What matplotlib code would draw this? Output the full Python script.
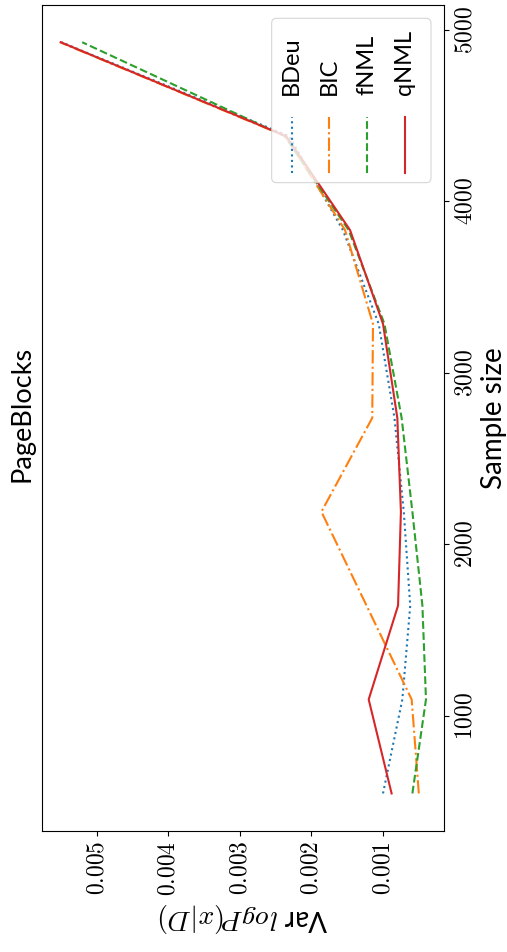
import matplotlib
matplotlib.use("Agg")
import matplotlib.pyplot as plt
from matplotlib.lines import Line2D
from matplotlib.patches import FancyBboxPatch
from matplotlib.ticker import FixedLocator, FuncFormatter

plt.rcParams["font.family"] = ["Lato", "DejaVu Sans"]
plt.rcParams["mathtext.fontset"] = "cm"

# data (figure is shown rotated by 90 degrees)
dataset = "PageBlocks"
sample_sizes = [547, 1095, 1642, 2189, 2736, 3284, 3831, 4378, 4926]
var_bdeu = [0.00100, 0.00073, 0.00062, 0.00071, 0.00084, 0.00106, 0.00156, 0.00231, 0.00549]
var_bic = [0.00050, 0.00060, 0.00123, 0.00186, 0.00115, 0.00114, 0.00153, 0.00236, 0.00551]
var_fnml = [0.00059, 0.00040, 0.00045, 0.00059, 0.00074, 0.00098, 0.00148, 0.00237, 0.00520]
var_qnml = [0.00088, 0.00120, 0.00079, 0.00075, 0.00080, 0.00100, 0.00146, 0.00235, 0.00550]
score_names = ["BDeu", "BIC", "fNML", "qNML"]
var_ticks = [0.001, 0.002, 0.003, 0.004, 0.005]
size_ticks = [1000, 2000, 3000, 4000, 5000]

series = [var_bdeu, var_bic, var_fnml, var_qnml]
colors = ["C0", "C1", "C2", "C3"]
linestyles = [":", "-.", "--", "-"]

fig = plt.figure(figsize=(5.07, 9.52), dpi=100)
ax = fig.add_axes([0.0822, 0.1271, 0.7941, 0.868])

for vals, color, ls in zip(series, colors, linestyles):
    ax.plot(vals, sample_sizes, color=color, linestyle=ls, lw=1.5)

ax.invert_xaxis()
ax.yaxis.tick_right()
ax.yaxis.set_label_position("right")

ax.xaxis.set_major_locator(FixedLocator(var_ticks))
ax.xaxis.set_major_formatter(FuncFormatter(lambda v, _: f"${v:.3f}$"))
ax.yaxis.set_major_locator(FixedLocator(size_ticks))
ax.yaxis.set_major_formatter(FuncFormatter(lambda v, _: f"${int(v)}$"))
ax.tick_params(axis="both", labelsize=17, labelrotation=90)
for lab in ax.get_yticklabels():
    lab.set_verticalalignment("center")

ax.set_xlabel("Var $logP(x|D)$", fontsize=20, rotation=180)
ax.set_ylabel("Sample size", fontsize=20, rotation=90)
ax.annotate(dataset, xy=(0, 0.5), xycoords="axes fraction", xytext=(-9, 3),
            textcoords="offset points", rotation=90, rotation_mode="anchor",
            ha="center", va="baseline", fontsize=19.5)

# legend drawn by hand so it can sit rotated like the rest of the figure
box = FancyBboxPatch((0.5713, 0.7846), 0.3957, 0.1989, transform=ax.transAxes,
                     boxstyle="round,pad=0,rounding_size=0.012", mutation_aspect=0.487,
                     facecolor="white", edgecolor="0.8", linewidth=0.8, alpha=0.8, zorder=5)
ax.add_patch(box)
handle_x = [0.621, 0.7144, 0.8088, 0.9024]
for hx, name, color, ls in zip(handle_x, score_names, colors, linestyles):
    ax.add_artist(Line2D([hx, hx], [0.796, 0.8645], transform=ax.transAxes,
                         color=color, linestyle=ls, lw=1.5, zorder=6))
    ax.text(hx, 0.8907, name, transform=ax.transAxes, rotation=90,
            rotation_mode="anchor", ha="left", va="center", fontsize=17, zorder=6)

fig.savefig("out.png", dpi=100)
